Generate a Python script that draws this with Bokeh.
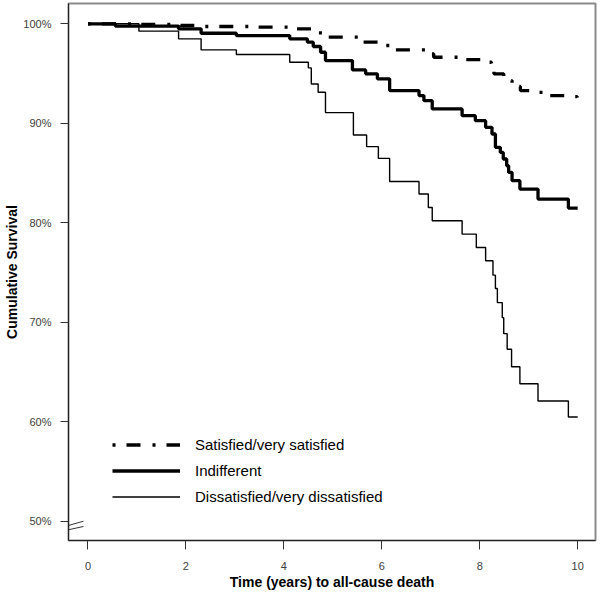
from bokeh.plotting import figure
from bokeh.models import FixedTicker, Legend, LegendItem, Range1d
from bokeh.embed import file_html
from bokeh.resources import INLINE

# ---- data ----
sat_t = [0, 1.06, 1.89, 2.33, 3.38, 4.20, 4.60, 4.88, 5.56, 5.97, 6.18, 6.93, 7.06,
         7.61, 8.05, 8.24, 8.29, 8.49, 8.66, 8.83, 9.04, 9.31, 9.79, 9.99, 10.0]
sat_s = [100, 99.93, 99.83, 99.73, 99.66, 99.50, 99.09, 98.67, 98.15, 97.82, 97.38, 96.98, 96.64,
         96.41, 96.14, 95.63, 94.97, 94.30, 93.70, 93.29, 93.12, 92.79, 92.69, 92.35, 92.35]

ind_t = [0, 0.56, 1.85, 2.31, 3.03, 4.12, 4.48, 4.60, 4.75, 4.85, 5.40, 5.67, 5.91, 6.16,
         6.76, 6.86, 7.03, 7.64, 7.91, 8.12, 8.25, 8.32, 8.42, 8.48, 8.55, 8.59, 8.66,
         8.82, 9.19, 9.81, 10.0]
ind_s = [100, 99.76, 99.50, 99.05, 98.82, 98.49, 98.15, 97.72, 97.14, 96.31, 95.37, 94.97, 94.47, 93.29,
         92.79, 92.28, 91.45, 90.77, 90.27, 89.60, 88.93, 87.59, 87.08, 86.42, 85.74, 85.07, 84.24,
         83.40, 82.39, 81.49, 81.49]

dis_t = [0, 1.04, 1.85, 2.31, 3.03, 4.12, 4.50, 4.56, 4.70, 4.85, 5.42, 5.69, 5.93, 6.16,
         6.76, 6.95, 7.03, 7.64, 7.93, 8.12, 8.27, 8.32, 8.36, 8.46, 8.49, 8.56, 8.65,
         8.82, 9.19, 9.81, 10.0]
dis_s = [100, 99.26, 98.49, 97.38, 96.91, 96.14, 95.57, 93.96, 93.12, 91.08, 88.83, 87.66, 86.48, 84.16,
         82.90, 81.55, 80.21, 78.87, 77.53, 76.19, 74.75, 73.40, 71.99, 70.48, 68.87, 67.30, 65.55,
         63.84, 62.10, 60.49, 60.49]

labels = ["Satisfied/very satisfied", "Indifferent", "Dissatisfied/very dissatisfied"]
x_ticks = [0, 2, 4, 6, 8, 10]
y_ticks = [50, 60, 70, 80, 90, 100]
y_tick_labels = ["50%", "60%", "70%", "80%", "90%", "100%"]

FONT = "Liberation Sans"

p = figure(width=600, height=599, output_backend="svg", toolbar_location=None,
           x_range=Range1d(-0.398, 10.364), y_range=Range1d(48.09, 102.04),
           min_border_left=68, min_border_right=5, min_border_top=3, min_border_bottom=59)
p.background_fill_color = "white"
p.border_fill_color = "white"
p.outline_line_color = "#8a8a8a"
p.outline_line_width = 2
p.xgrid.visible = False
p.ygrid.visible = False

for ax in (p.xaxis, p.yaxis):
    ax.axis_line_color = "#222222"
    ax.axis_line_width = 1
    ax.major_tick_line_color = "#333333"
    ax.major_tick_in = 0
    ax.minor_tick_line_color = None
    ax.major_label_text_font = FONT
    ax.major_label_text_font_size = "11px"
    ax.major_label_text_color = "#404040"
    ax.axis_label_text_font = FONT
    ax.axis_label_text_font_size = "14px"
    ax.axis_label_text_font_style = "bold"
    ax.axis_label_text_color = "black"

p.xaxis.ticker = FixedTicker(ticks=x_ticks)
p.xaxis.major_tick_out = 9
p.xaxis.major_label_standoff = 12
p.xaxis.axis_label = "Time (years) to all-cause death"
p.xaxis.axis_label_standoff = 1

p.yaxis.ticker = FixedTicker(ticks=y_ticks)
p.yaxis.major_tick_out = 8
p.yaxis.major_label_standoff = 9
p.yaxis.major_label_overrides = {t: s for t, s in zip(y_ticks, y_tick_labels)}
p.yaxis.axis_label = "Cumulative Survival"
p.yaxis.axis_label_standoff = 0

r_sat = p.step(sat_t, sat_s, mode="after", line_color="black", line_width=3.3,
               line_dash="3 11 14 12", line_cap="butt")
r_ind = p.step(ind_t, ind_s, mode="after", line_color="black", line_width=3.3)
r_dis = p.step(dis_t, dis_s, mode="after", line_color="black", line_width=1.4)

# axis break marks
brk_x0 = p.x_range.start
brk_x1 = -0.092
p.segment(x0=[brk_x0, brk_x0], y0=[49.6, 49.17], x1=[brk_x1, brk_x1], y1=[50.03, 49.5],
          line_color="#333333", line_width=1)

legend = Legend(items=[LegendItem(label=labels[0], renderers=[r_sat]),
                       LegendItem(label=labels[1], renderers=[r_ind]),
                       LegendItem(label=labels[2], renderers=[r_dis])],
                location=(44, 31), orientation="vertical")
legend.background_fill_alpha = 0
legend.border_line_color = None
legend.padding = 0
legend.margin = 0
legend.spacing = 1
legend.glyph_width = 68
legend.glyph_height = 25
legend.label_height = 25
legend.label_standoff = 15
legend.label_text_font = FONT
legend.label_text_font_size = "15px"
legend.label_text_color = "black"
legend.label_text_baseline = "middle"
p.add_layout(legend, "center")

open("out.html", "w").write(file_html(p, INLINE))
